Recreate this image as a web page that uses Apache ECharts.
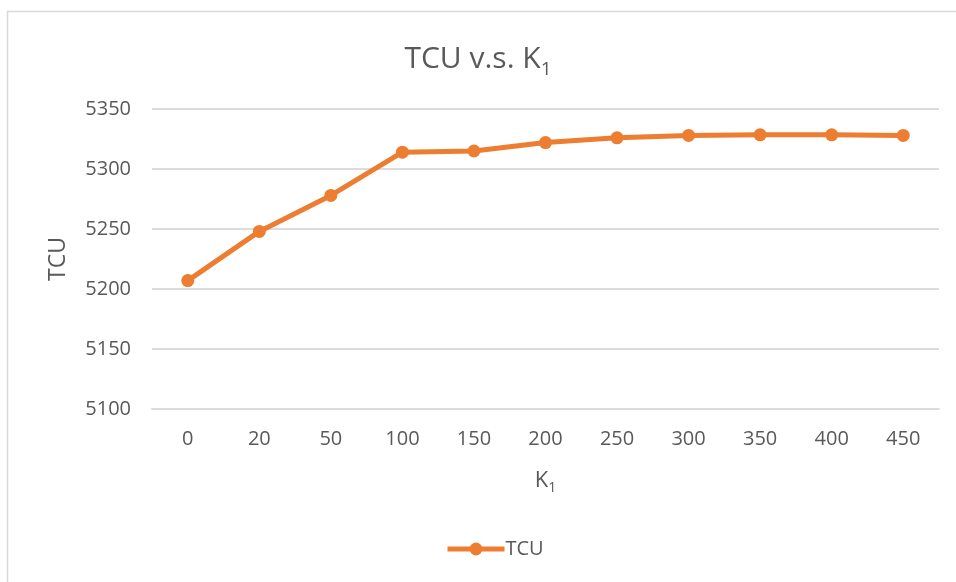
<!DOCTYPE html>
<html>
<head>
<meta charset="utf-8">
<script src="https://cdn.jsdelivr.net/npm/echarts@6/dist/echarts.min.js"></script>
<style>
html,body{margin:0;padding:0;background:#fff;}
#c{width:956px;height:582px;}
</style>
</head>
<body>
<div id="c"></div>
<script>
const categories = ['0','20','50','100','150','200','250','300','350','400','450'];
const tcuValues = [5207, 5248, 5278, 5314, 5315, 5322, 5326, 5328, 5328.5, 5328.5, 5328];
const yTicks = { min: 5100, max: 5350, interval: 50 };
const seriesName = 'TCU';

const FONT = 'Open Sans';
const TXT = '#595959';
const GRID = '#dcdcdc';

const chart = echarts.init(document.getElementById('c'));
chart.setOption({
  backgroundColor: '#ffffff',
  animation: false,
  graphic: [{
    type: 'rect', left: 5, top: 9, silent: true,
    shape: { width: 1000, height: 1000 },
    style: { fill: 'none', stroke: '#d9d9d9', lineWidth: 1.5 }
  }],
  title: {
    text: 'TCU v.s. K{sub|1}',
    left: 'center',
    top: 34,
    textStyle: {
      fontFamily: FONT, fontSize: 30, fontWeight: 'normal', color: TXT,
      lineHeight: 40,
      rich: { sub: { fontFamily: FONT, fontSize: 19, color: TXT, verticalAlign: 'bottom', lineHeight: 16 } }
    }
  },
  grid: { left: 152, right: 17, top: 109, bottom: 173, containLabel: false },
  legend: {
    bottom: 18,
    left: 440,
    itemWidth: 57,
    itemHeight: 16,
    itemGap: 4,
    lineStyle: { width: 5 },
    textStyle: { fontFamily: FONT, fontSize: 20, color: TXT, padding: [0,0,0,-4] },
    data: [seriesName]
  },
  xAxis: {
    type: 'category',
    data: categories,
    boundaryGap: true,
    name: 'K{sub|1}',
    nameLocation: 'middle',
    nameGap: 58,
    nameTextStyle: {
      fontFamily: FONT, fontSize: 22, color: TXT, lineHeight: 28,
      rich: { sub: { fontFamily: FONT, fontSize: 14, color: TXT, verticalAlign: 'bottom', lineHeight: 10 } }
    },
    axisLine: { show: true, lineStyle: { color: GRID, width: 2 } },
    axisTick: { show: false },
    axisLabel: { fontFamily: FONT, fontSize: 20, color: TXT, margin: 20 },
    splitLine: { show: false }
  },
  yAxis: {
    type: 'value',
    min: yTicks.min, max: yTicks.max, interval: yTicks.interval,
    name: 'TCU',
    nameLocation: 'middle',
    nameGap: 82,
    nameTextStyle: { fontFamily: FONT, fontSize: 23, color: TXT },
    axisLine: { show: false },
    axisTick: { show: false },
    axisLabel: { fontFamily: FONT, fontSize: 20, color: TXT, margin: 21, formatter: v => String(v) },
    splitLine: { show: true, lineStyle: { color: GRID, width: 2 } }
  },
  series: [{
    name: seriesName,
    type: 'line',
    data: tcuValues,
    symbol: 'circle',
    symbolSize: 13,
    itemStyle: { color: '#ED7D31' },
    lineStyle: { color: '#ED7D31', width: 5 }
  }]
});
</script>
</body>
</html>
